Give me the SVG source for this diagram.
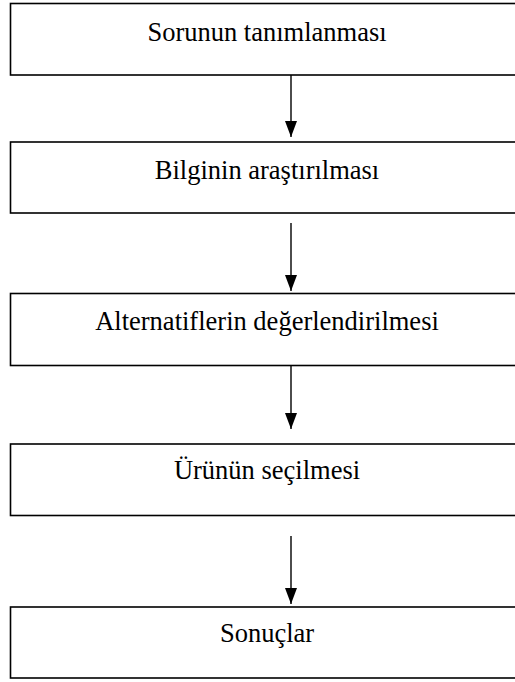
<svg xmlns="http://www.w3.org/2000/svg" width="515" height="682" viewBox="0 0 515 682">
<defs>
<style>
.box{fill:#fff;stroke:#000;stroke-width:1.6}
.lbl{font-family:"Liberation Serif","Times New Roman",serif;font-size:26.5px;fill:#000;text-anchor:middle}
.conn{stroke:#000;stroke-width:1.4;fill:none;marker-end:url(#ah)}
</style>
<marker id="ah" markerUnits="userSpaceOnUse" markerWidth="16" markerHeight="12" refX="16" refY="6" orient="auto" viewBox="0 0 16 12">
<path d="M0,0 L16,6 L0,12 Z" fill="#000"/>
</marker>
</defs>
<rect width="515" height="682" fill="#fff"/>
<g id="connectors">
<path class="conn" d="M291,70 V137"/>
<path class="conn" d="M291,223 V291"/>
<path class="conn" d="M291,365 V429"/>
<path class="conn" d="M291,536 V604"/>
</g>
<g id="n1"><rect class="box" x="10.5" y="3.5" width="515" height="71.5"/><text class="lbl" x="267" y="40.5">Sorunun tanımlanması</text></g>
<g id="n2"><rect class="box" x="10.5" y="142" width="515" height="71"/><text class="lbl" x="267" y="178.5">Bilginin araştırılması</text></g>
<g id="n3"><rect class="box" x="10.5" y="293.5" width="515" height="72"/><text class="lbl" x="267" y="330">Alternatiflerin değerlendirilmesi</text></g>
<g id="n4"><rect class="box" x="10.5" y="444" width="515" height="71.5"/><text class="lbl" x="267" y="479">Ürünün seçilmesi</text></g>
<g id="n5"><rect class="box" x="10.5" y="607" width="515" height="71"/><text class="lbl" x="267" y="642">Sonuçlar</text></g>
</svg>
